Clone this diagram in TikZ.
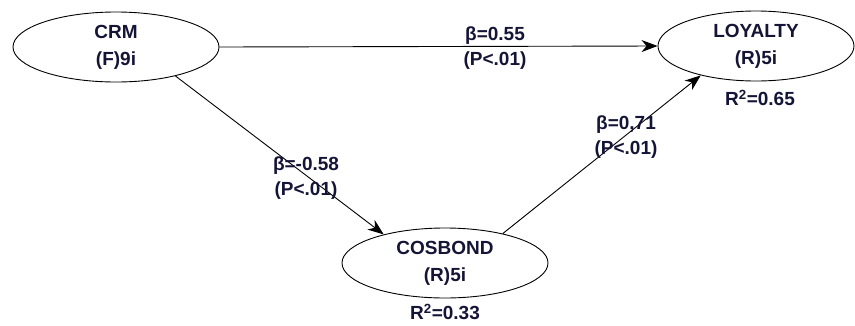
\documentclass[tikz,border=0pt]{standalone}
\usepackage{fontspec}
\setmainfont{Liberation Sans}
\usetikzlibrary{shapes.geometric,arrows.meta}
\definecolor{txt}{RGB}{20,20,55}
\begin{document}
\begin{tikzpicture}[x=1pt,y=-1pt,
  lv/.style={ellipse,draw=black,line width=0.9pt,minimum width=206pt,minimum height=70pt,inner sep=0pt,
    align=center,text=txt,font=\bfseries\fontsize{19}{27}\selectfont},
  lbl/.style={align=center,text=txt,font=\bfseries\fontsize{19}{25}\selectfont,inner sep=0pt},
  path/.style={draw=black,line width=0.9pt,-{Stealth[length=16pt,width=12pt,inset=5pt]}}]
\useasboundingbox (0,0) rectangle (855,325);
\node[lv] (crm) at (116,47) {CRM\\(F)9i};
\node[lv,minimum width=196pt] (loy) at (756,46) {LOYALTY\\(R)5i};
\node[lv] (cos) at (445,263) {COSBOND\\(R)5i};
\node[lbl] (r1) at (760,98) {R\textsuperscript{2}=0.65};
\node[lbl] (r2) at (445,312) {R\textsuperscript{2}=0.33};
\draw[path] (crm.east) -- (loy.west);
\draw[path] (crm.-26) -- (cos.155);
\draw[path] (cos.27) -- (loy.208);
\node[lbl] (b1) at (495,48) {β=0.55\\(P<.01)};
\node[lbl] (b2) at (306,178) {β=-0.58\\(P<.01)};
\node[lbl] (b3) at (626,137) {β=0,71\\(P<.01)};
\end{tikzpicture}
\end{document}
